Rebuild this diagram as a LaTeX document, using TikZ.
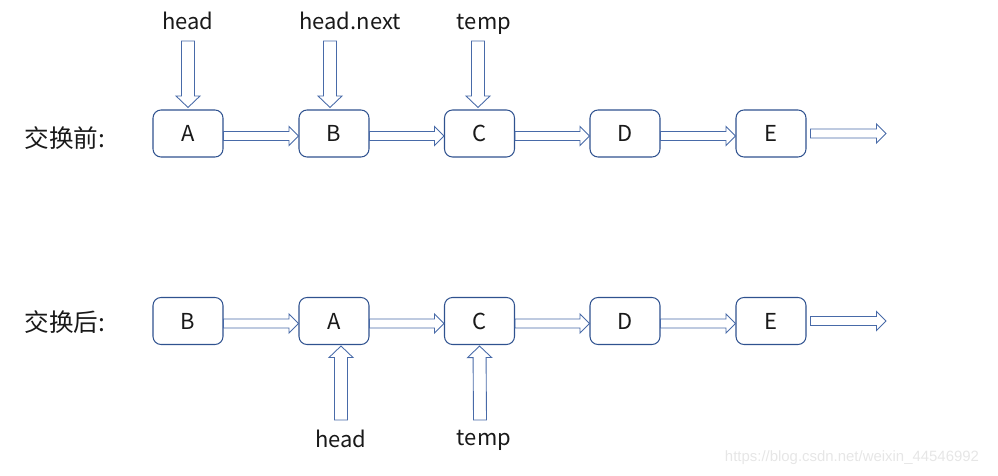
\documentclass[tikz,border=0pt]{standalone}
\usepackage{fontspec}
\setmainfont{Noto Sans CJK SC}
\newfontfamily\urlfont{Liberation Sans}
\usetikzlibrary{calc,positioning}
\definecolor{boxblue}{RGB}{47,82,143}
\definecolor{arrowblue}{RGB}{72,106,168}
\definecolor{markgray}{RGB}{230,230,230}

% hollow block arrow: half shaft width, half head width, head length
\tikzset{
  fat arrow/.style n args={3}{draw=arrowblue, line width=0.5pt, to path={
    ($(\tikztostart)!#1!90:(\tikztotarget)$)
    -- ($(\tikztotarget)!#3!(\tikztostart)!#1!-90:(\tikztostart)$)
    -- ($(\tikztotarget)!#3!(\tikztostart)!#2!-90:(\tikztostart)$)
    -- (\tikztotarget)
    -- ($(\tikztotarget)!#3!(\tikztostart)!#2!90:(\tikztostart)$)
    -- ($(\tikztotarget)!#3!(\tikztostart)!#1!90:(\tikztostart)$)
    -- ($(\tikztostart)!#1!-90:(\tikztotarget)$) -- cycle}},
  harrow/.style={fat arrow={0.09cm}{0.19cm}{0.19cm}},
  varrow/.style={fat arrow={0.13cm}{0.24cm}{0.23cm}}
}

\begin{document}
\begin{tikzpicture}[x=0.02cm, y=-0.02cm]
	\tikzstyle{every node} = [font=\fontsize{12.5}{15}\selectfont, text=black!90]
	\tikzstyle{item} = [draw = boxblue, line width=0.6pt, rounded corners=0.16cm, minimum width=1.4cm, minimum height=0.94cm]
	\tikzstyle{pointer} = [anchor=base]
	\tikzstyle{rowname} = [font=\fontsize{14}{16}\selectfont]
\useasboundingbox (0,0) rectangle (998,476);
% before the swap
\node[rowname] (before) at (65,138) {交换前:};
\node[item] (a1) at (188,133.5) {A};
\node[item] (b1) at (334,133.5) {B};
\node[item] (c1) at (479.5,133.5) {C};
\node[item] (d1) at (625,133.5) {D};
\node[item] (e1) at (771,133.5) {E};
\coordinate (tail1) at (886,133.5);
	\path[harrow] ([yshift=-0.05cm]a1.east) to ([yshift=-0.05cm]b1.west);
	\path[harrow] ([yshift=-0.05cm]b1.east) to ([yshift=-0.05cm]c1.west);
	\path[harrow] ([yshift=-0.05cm]c1.east) to ([yshift=-0.05cm]d1.west);
	\path[harrow] ([yshift=-0.05cm]d1.east) to ([yshift=-0.05cm]e1.west);
	\path[harrow] ([xshift=0.08cm]e1.east) to (tail1);
% pointers above
\node[pointer] (headtop) at (188,30) {head};
\node[pointer] (nexttop) at (350,30) {head.next};
\node[pointer] (temptop) at (484,30) {temp};
\coordinate (phead) at (188,41);
\coordinate (pnext) at (330,41);
\coordinate (ptemp) at (478,41);
	\path[varrow] (phead) to ([yshift=0.04cm]a1.north);
	\path[varrow] (pnext) to ([xshift=-0.08cm,yshift=0.04cm]b1.north);
	\path[varrow] (ptemp) to ([xshift=-0.03cm,yshift=0.04cm]c1.north);
% after the swap
\node[rowname] (after) at (65,322) {交换后:};
\node[item] (b2) at (188,321) {B};
\node[item] (a2) at (334,321) {A};
\node[item] (c2) at (479.5,321) {C};
\node[item] (d2) at (625,321) {D};
\node[item] (e2) at (771,321) {E};
\coordinate (tail2) at (886,321);
	\path[harrow] ([yshift=-0.05cm]b2.east) to ([yshift=-0.05cm]a2.west);
	\path[harrow] ([yshift=-0.05cm]a2.east) to ([yshift=-0.05cm]c2.west);
	\path[harrow] ([yshift=-0.05cm]c2.east) to ([yshift=-0.05cm]d2.west);
	\path[harrow] ([yshift=-0.05cm]d2.east) to ([yshift=-0.05cm]e2.west);
	\path[harrow] ([xshift=0.08cm]e2.east) to (tail2);
% pointers below
\coordinate (qhead) at (341,420);
\coordinate (qtemp) at (480,420);
	\path[varrow] (qhead) to ([xshift=0.14cm,yshift=-0.02cm]a2.south);
	\path[varrow] (qtemp) to ([yshift=-0.02cm]c2.south);
\node[pointer] (headbot) at (341,447) {head};
\node[pointer] (tempbot) at (484,445) {temp};
\node[font=\urlfont\fontsize{8.5}{10}\selectfont, text=markgray] (mark) at (852,458) {https://blog.csdn.net/weixin\_44546992};
\end{tikzpicture}
\end{document}
